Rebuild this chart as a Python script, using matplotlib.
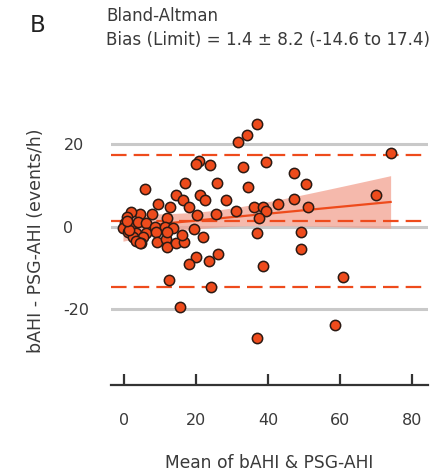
import numpy as np
import matplotlib.pyplot as plt

# mean of the two AHI measures (x) and their difference (y), events/h
mean_ahi = [36.9, 34.2, 31.5, 74.0, 20.7, 19.9, 23.9, 39.5, 32.9, 47.2,
            16.9, 25.9, 50.5, 5.9, 34.5, 69.9, 14.3, 21.0, 16.3, 22.4,
            28.2, 47.2, 42.6, 9.5, 12.7, 17.9, 36.0, 38.6, 51.0, 39.4,
            31.1, 25.5, 20.3, 7.7, 4.3, 1.9, 11.8, 37.5, 19.5, 36.9,
            49.0, 21.9, 49.0, 20.0, 26.0, 18.1, 23.5, 38.6, 60.9, 12.5,
            24.1, 15.5, 58.5, 36.9,
            0.7, 0.2, -0.3, 2.0, 3.9, 6.2, 8.5, 11.3, 13.6, 1.1,
            3.4, 6.2, 9.0, 2.5, 5.3, 3.4, 4.6, 9.2, 11.6, 11.8,
            14.4, 16.7, 16.1, 11.8, 1.4, 0.8, 4.4]
diff_ahi = [24.9, 22.3, 20.6, 17.8, 15.9, 15.2, 15.0, 15.8, 14.4, 13.0,
            10.5, 10.6, 10.3, 9.2, 9.6, 7.7, 7.7, 7.8, 6.4, 6.5,
            6.5, 6.8, 5.5, 5.4, 4.8, 4.9, 4.8, 4.8, 4.7, 3.9,
            3.9, 3.1, 2.8, 3.1, 3.0, 3.5, 2.2, 2.2, -0.5, -1.6,
            -1.2, -2.5, -5.5, -7.3, -6.5, -9.1, -8.2, -9.6, -12.1, -13.0,
            -14.5, -19.4, -23.7, -27.0,
            2.3, 0.8, -0.4, 0.4, 1.2, 0.8, 0.0, 0.0, -0.4, -1.2,
            -1.6, -1.6, -1.2, -2.4, -2.4, -3.4, -4.0, -3.8, -3.0, -4.8,
            -4.0, -3.8, -2.0, -1.2, -0.8, 1.5, -4.0]

bias = 1.4
sd = 8.2
loa_low = -14.6
loa_high = 17.4
ref_lines = [-20, 0, 20]

x = np.array(mean_ahi)
y = np.array(diff_ahi)

fig = plt.figure(figsize=(4.42, 4.73), dpi=100)
ax = fig.add_axes([0.2505, 0.186, 0.7172, 0.571])

red = '#EE4B1C'
txt = '#3A3A3A'
for r in ref_lines:
    ax.axhline(r, color='#C9C9C9', lw=2.2, zorder=1)

# linear trend of the difference with 95% CI
n = len(x)
slope, icpt = np.polyfit(x, y, 1)
xs = np.linspace(x.min(), x.max(), 100)
fit = icpt + slope * xs
resid = y - (icpt + slope * x)
s = np.sqrt(np.sum(resid ** 2) / (n - 2))
se = s * np.sqrt(1 / n + (xs - x.mean()) ** 2 / np.sum((x - x.mean()) ** 2))
ax.fill_between(xs, fit - 1.99 * se, fit + 1.99 * se, color='#F2A291', alpha=0.75, lw=0, zorder=2)
ax.plot(xs, fit, color=red, lw=1.6, zorder=3)

for v in [bias, loa_low, loa_high]:
    ax.axhline(v, color=red, lw=1.6, dashes=(7, 3.2), zorder=3)

ax.scatter(x, y, s=55, color=red, edgecolor='#2B1A14', linewidth=1.1, zorder=4)

ax.set_xlim(-3.7, 84.3)
ax.set_ylim(-38.35, 27.1)
ax.set_xticks([0, 20, 40, 60, 80])
ax.set_yticks(ref_lines)
ax.set_yticklabels([str(v) for v in ref_lines], ha='left')
for sp in ['top', 'right', 'left']:
    ax.spines[sp].set_visible(False)
ax.spines['bottom'].set_color('#333333')
ax.spines['bottom'].set_linewidth(1.6)
ax.tick_params(axis='x', direction='in', length=8, width=1.6, color='#333333',
               pad=20, labelsize=11.5, labelcolor=txt)
ax.tick_params(axis='y', length=0, pad=34, labelsize=11.5, labelcolor=txt)

ax.set_xlabel('Mean of bAHI & PSG-AHI', fontsize=12.3, color=txt, labelpad=19)
fig.text(36 / 442, 1 - 241 / 473, 'bAHI - PSG-AHI (events/h)', rotation=90,
         fontsize=12.5, color=txt, ha='center', va='center')

fig.text(30 / 442, 1 - 25 / 473, 'B', fontsize=16.5, color='#222222', ha='left', va='center')
fig.text(106 / 442, 1 - 16 / 473, 'Bland-Altman', fontsize=12, color=txt, ha='left', va='center')
fig.text(106 / 442, 1 - 40 / 473, 'Bias (Limit) = %.1f \u00b1 %.1f (%.1f to %.1f)' % (bias, sd, loa_low, loa_high),
         fontsize=12.1, color=txt, ha='left', va='center')

fig.savefig('out.png', dpi=100)
